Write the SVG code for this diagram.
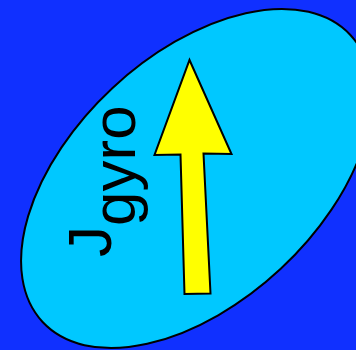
<svg xmlns="http://www.w3.org/2000/svg" width="356" height="350" viewBox="0 0 356 350">
<style>
.bg{fill:#1030ff}
.body{fill:#00c8ff;stroke:#000;stroke-width:2}
.arrow{fill:#ffff00;stroke:#000;stroke-width:2;stroke-linejoin:miter}
.lbl{font-family:"Liberation Sans",Arial,sans-serif;font-size:62px;fill:#000}
</style>
<rect class="bg" x="0" y="0" width="356" height="350"/>
<g id="gyro-body">
<ellipse class="body" cx="196.5" cy="178.5" rx="210.4" ry="123.5" transform="rotate(-43 196.5 178.5)"/>
</g>
<g id="connectors">
<polygon class="arrow" points="189.5,60 231.5,154 203.5,153.5 210.5,293.5 184.5,294 180.5,154.5 154.5,155"/>
</g>
<g id="label">
<text class="lbl" transform="translate(111,257) rotate(-90)">J<tspan dy="24">gyro</tspan></text>
</g>
</svg>
